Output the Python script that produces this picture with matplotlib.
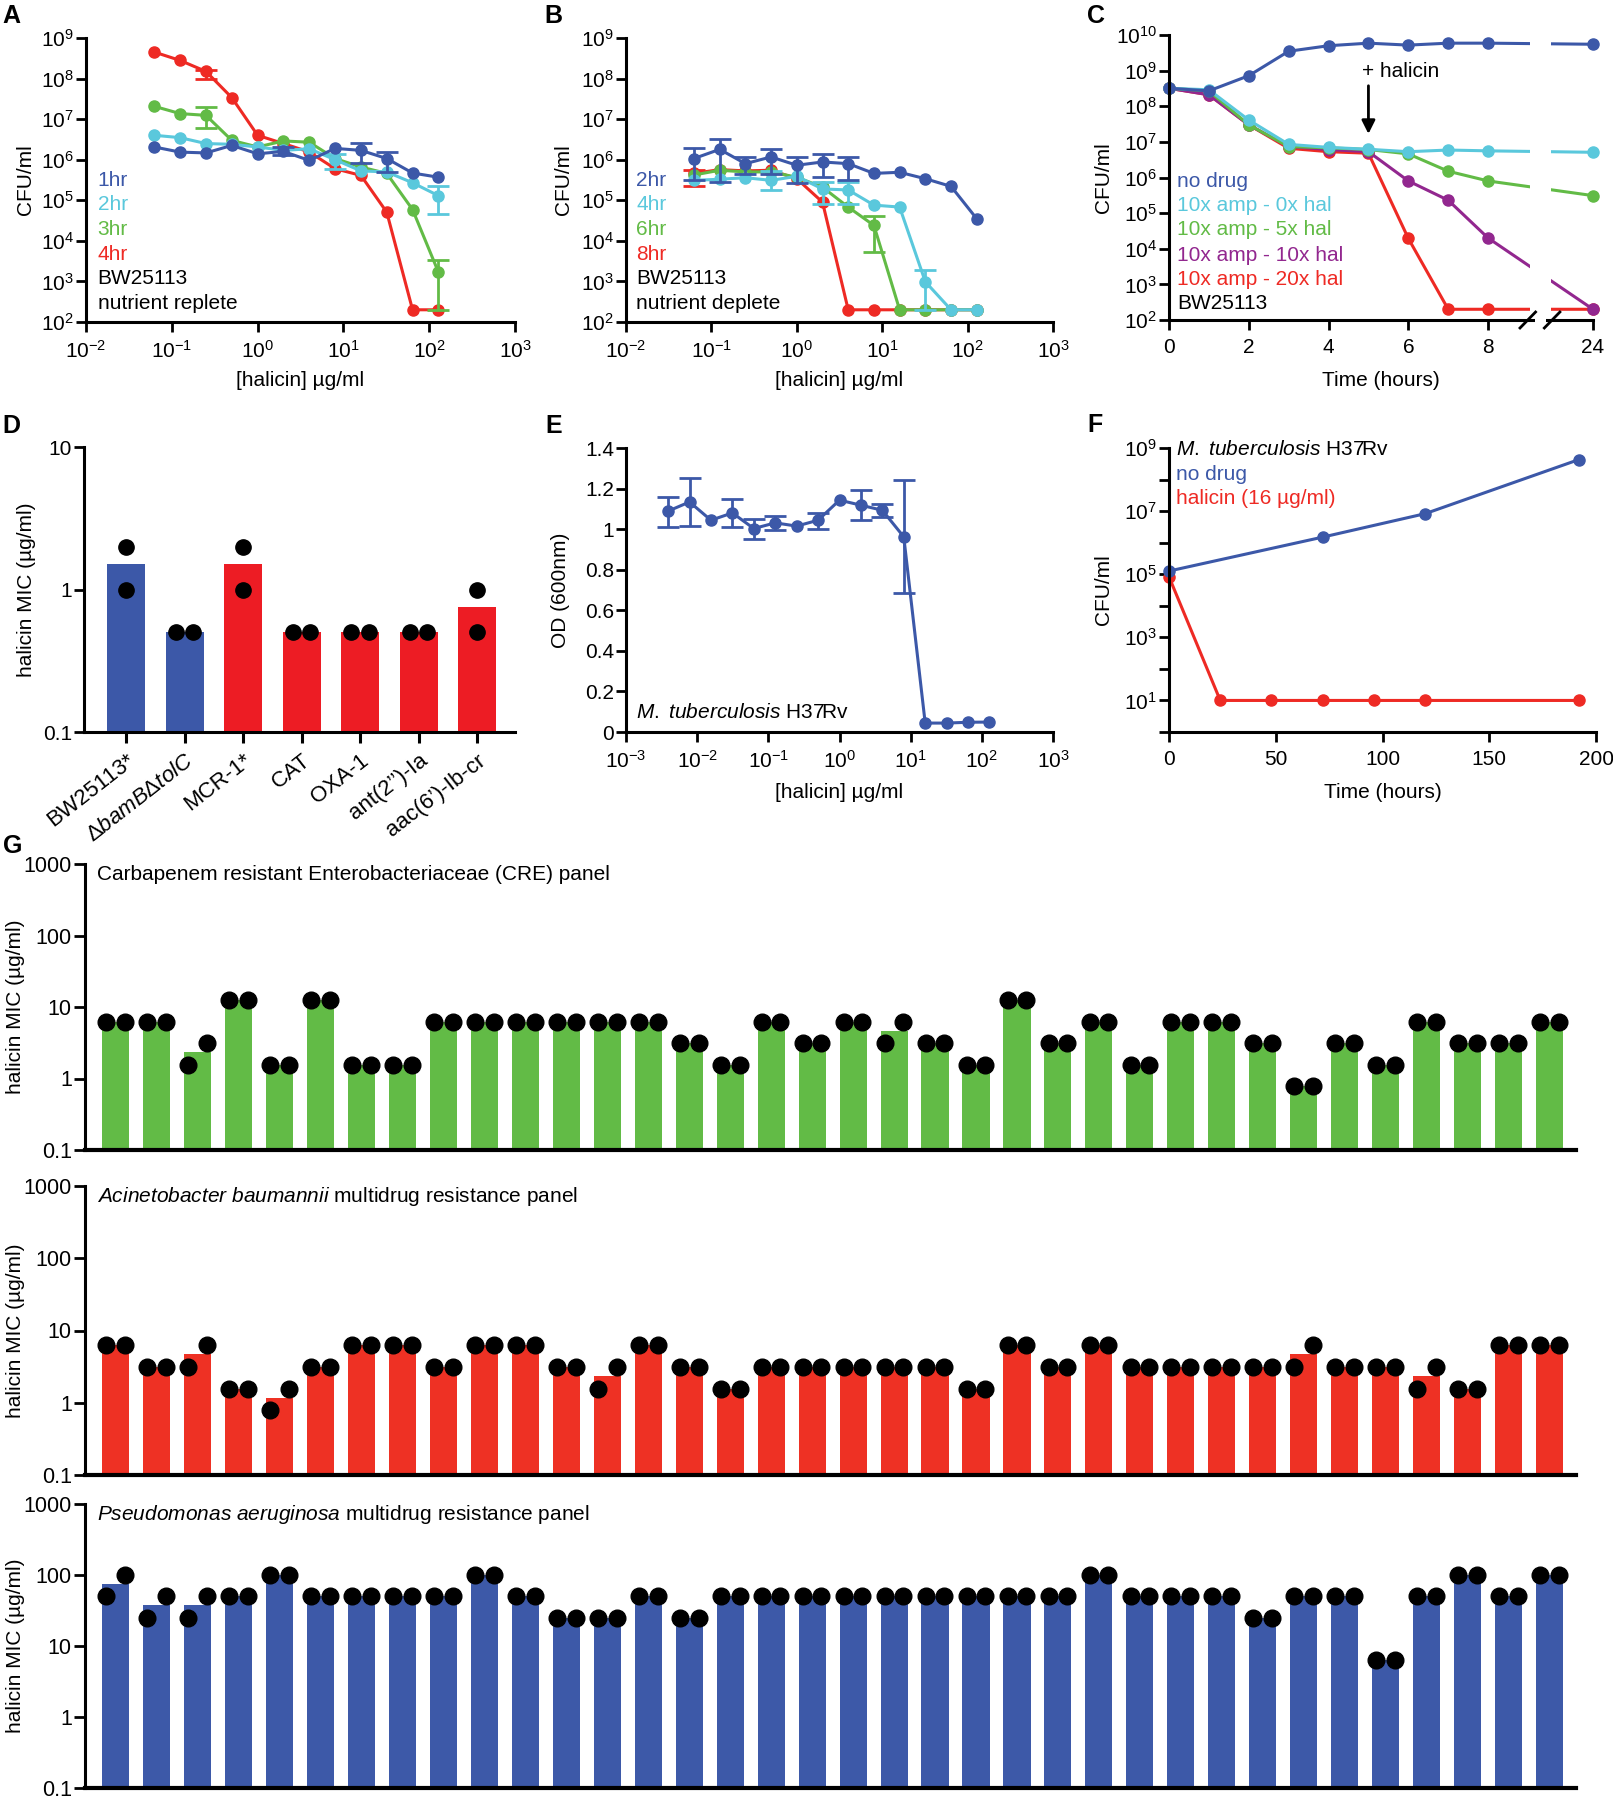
import numpy as np
import matplotlib
matplotlib.use('Agg')
import matplotlib.pyplot as plt
from matplotlib.ticker import FuncFormatter, NullLocator
from matplotlib.transforms import blended_transform_factory

plt.rcParams['font.family'] = ['Liberation Sans', 'DejaVu Sans']
plt.rcParams['mathtext.fontset'] = 'custom'
plt.rcParams['mathtext.rm'] = 'Liberation Sans'
plt.rcParams['mathtext.it'] = 'Liberation Sans:italic'
plt.rcParams['mathtext.bf'] = 'Liberation Sans:bold'

BLUE = '#3c58a8'
CYAN = '#5ac8dc'
GREEN = '#62bb46'
RED = '#ee2a24'
PURPLE = '#92278f'

# ---- A: nutrient replete kill curves ----
conc = [0.0625, 0.125, 0.25, 0.5, 1, 2, 4, 8, 16, 32, 64, 128]
a_1hr = [2.06e6, 1.54e6, 1.47e6, 2.25e6, 1.4e6, 1.6e6, 9.6e5, 1.9e6, 1.7e6, 1.07e6, 4.7e5, 3.7e5]
a_2hr = [4e6, 3.5e6, 2.5e6, 2.4e6, 2.06e6, 1.7e6, 1.86e6, 1e6, 5.3e5, 5e5, 2.7e5, 1.3e5]
a_3hr = [2.07e7, 1.37e7, 1.24e7, 3e6, 2.06e6, 2.9e6, 2.7e6, 1.07e6, 6.6e5, 4.6e5, 5.9e4, 1.7e3]
a_4hr = [4.5e8, 2.8e8, 1.5e8, 3.4e7, 4e6, 2.5e6, 1.55e6, 6e5, 4.1e5, 5.1e4, 200, 200]
# error bars as (index, lower, upper)
a_1hr_err = [(5, 1.3e6, 2.05e6), (8, 8.5e5, 2.6e6), (9, 5e5, 1.55e6)]
a_2hr_err = [(7, 6e5, 1.4e6), (11, 4.7e4, 2.3e5)]
a_3hr_err = [(2, 5.9e6, 2e7), (11, 200, 3.3e3)]
a_4hr_err = [(2, 1e8, 1.6e8)]

# ---- B: nutrient deplete kill curves ----
b_2hr = [1.07e6, 1.8e6, 8e5, 1.17e6, 7.3e5, 8.8e5, 8e5, 4.6e5, 4.9e5, 3.4e5, 2.2e5, 3.5e4]
b_4hr = [3.1e5, 3.3e5, 3.6e5, 3.1e5, 3.9e5, 1.9e5, 1.8e5, 7.6e4, 6.8e4, 980, 200, 200]
b_6hr = [4.2e5, 5.5e5, 5e5, 5e5, 3.7e5, 2.1e5, 6.8e4, 2.4e4, 200, 200, 200, 200]
b_8hr = [4.6e5, 5.7e5, 5.3e5, 5.5e5, 3.4e5, 9e4, 200, 200, 200, 200, 200, 200]
b_2hr_err = [(0, 3.1e5, 1.9e6), (1, 2.8e5, 3.3e6), (2, 4.5e5, 1.2e6), (3, 4.5e5, 1.8e6),
             (4, 2.6e5, 1.2e6), (5, 3.8e5, 1.4e6), (6, 3.1e5, 1.2e6)]
b_4hr_err = [(3, 1.8e5, 5.2e5), (5, 8e4, 2.8e5), (6, 8e4, 2.8e5), (9, 200, 1.9e3)]
b_6hr_err = [(7, 5.3e3, 4.2e4)]
b_8hr_err = [(0, 2.2e5, 5.5e5)]

# ---- C: amp + halicin time course ----
hours_c = [0, 1, 2, 3, 4, 5, 6, 7, 8, 24]
c_nodrug = [3.2e8, 2.7e8, 7.2e8, 3.5e9, 5e9, 5.9e9, 5.2e9, 5.9e9, 5.9e9, 5.5e9]
c_0x = [3.2e8, 2.9e8, 4.1e7, 8.5e6, 7e6, 6.2e6, 5.3e6, 5.9e6, 5.6e6, 5.1e6]
c_5x = [3.2e8, 2.7e8, 3e7, 7.4e6, 6.8e6, 6.1e6, 4.6e6, 1.5e6, 8e5, 3.1e5]
c_10x = [3.2e8, 2.1e8, 3e7, 7.4e6, 6.1e6, 5.3e6, 8e5, 2.3e5, 2e4, 200]
c_20x = [3.2e8, 2.1e8, 3e7, 6.6e6, 5.3e6, 4.8e6, 1.95e4, 200, 200, 200]

# ---- D: resistant E. coli strains ----
d_strains = ['BW25113*', r'$\Delta\mathit{bamB}\Delta\mathit{tolC}$', 'MCR-1*', 'CAT', 'OXA-1',
             'ant(2’’)-Ia', 'aac(6’)-Ib-cr']
d_rep1 = [1, 0.5, 1, 0.5, 0.5, 0.5, 0.5]
d_rep2 = [2, 0.5, 2, 0.5, 0.5, 0.5, 1]

# ---- E: M. tuberculosis OD ----
conc_e = [0.00390625, 0.0078125, 0.015625, 0.03125, 0.0625, 0.125, 0.25, 0.5,
          1, 2, 4, 8, 16, 32, 64, 128]
od_e = [1.089, 1.134, 1.044, 1.08, 1.003, 1.031, 1.015, 1.044,
        1.143, 1.118, 1.093, 0.962, 0.044, 0.044, 0.048, 0.049]
od_e_err = [(0, 1.01, 1.16), (1, 1.015, 1.25), (3, 1.01, 1.15), (4, 0.95, 1.052),
            (5, 0.998, 1.066), (7, 1.003, 1.08), (9, 1.044, 1.195), (10, 1.06, 1.126),
            (11, 0.687, 1.241)]

# ---- F: M. tuberculosis CFU ----
hours_f_nodrug = [0, 72, 120, 192]
cfu_f_nodrug = [1.26e5, 1.5e6, 8.3e6, 4.3e8]
hours_f_hal = [0, 24, 48, 72, 96, 120, 192]
cfu_f_hal = [8.3e4, 10, 10, 10, 10, 10, 10]

# ---- G: MIC panels (two replicates each, 36 isolates) ----
cre_rep1 = [6.25, 6.25, 1.5625, 12.5, 1.5625, 12.5, 1.5625, 1.5625, 6.25, 6.25, 6.25, 6.25,
            6.25, 6.25, 3.125, 1.5625, 6.25, 3.125, 6.25, 3.125, 3.125, 1.5625, 12.5, 3.125,
            6.25, 1.5625, 6.25, 6.25, 3.125, 0.78125, 3.125, 1.5625, 6.25, 3.125, 3.125, 6.25]
cre_rep2 = [6.25, 6.25, 3.125, 12.5, 1.5625, 12.5, 1.5625, 1.5625, 6.25, 6.25, 6.25, 6.25,
            6.25, 6.25, 3.125, 1.5625, 6.25, 3.125, 6.25, 6.25, 3.125, 1.5625, 12.5, 3.125,
            6.25, 1.5625, 6.25, 6.25, 3.125, 0.78125, 3.125, 1.5625, 6.25, 3.125, 3.125, 6.25]
aba_rep1 = [6.25, 3.125, 3.125, 1.5625, 0.78125, 3.125, 6.25, 6.25, 3.125, 6.25, 6.25, 3.125,
            1.5625, 6.25, 3.125, 1.5625, 3.125, 3.125, 3.125, 3.125, 3.125, 1.5625, 6.25, 3.125,
            6.25, 3.125, 3.125, 3.125, 3.125, 3.125, 3.125, 3.125, 1.5625, 1.5625, 6.25, 6.25]
aba_rep2 = [6.25, 3.125, 6.25, 1.5625, 1.5625, 3.125, 6.25, 6.25, 3.125, 6.25, 6.25, 3.125,
            3.125, 6.25, 3.125, 1.5625, 3.125, 3.125, 3.125, 3.125, 3.125, 1.5625, 6.25, 3.125,
            6.25, 3.125, 3.125, 3.125, 3.125, 6.25, 3.125, 3.125, 3.125, 1.5625, 6.25, 6.25]
pae_rep1 = [50, 25, 25, 50, 100, 50, 50, 50, 50, 100, 50, 25, 25, 50, 25, 50, 50, 50,
            50, 50, 50, 50, 50, 50, 100, 50, 50, 50, 25, 50, 50, 6.25, 50, 100, 50, 100]
pae_rep2 = [100, 50, 50, 50, 100, 50, 50, 50, 50, 100, 50, 25, 25, 50, 25, 50, 50, 50,
            50, 50, 50, 50, 50, 50, 100, 50, 50, 50, 25, 50, 50, 6.25, 50, 100, 50, 100]

W, H = 1613, 1800
fig = plt.figure(figsize=(W / 100, H / 100), dpi=100)
FS = 15


def box(l, t, r, b):
    return [l / W, 1 - b / H, (r - l) / W, (b - t) / H]


def style(ax):
    for s in ['top', 'right']:
        ax.spines[s].set_visible(False)
    for s in ['left', 'bottom']:
        ax.spines[s].set_linewidth(2.2)
    ax.tick_params(width=2, length=7, labelsize=FS)
    ax.tick_params(axis='x', pad=6)
    ax.tick_params(axis='y', pad=1.5)


def labels(ax, xlabel=None, xl_dy=60, ylabel=None, yl_dx=62):
    # place axis labels at a given pixel distance from the spines
    pos = ax.get_position()
    if xlabel:
        ax.set_xlabel(xlabel, fontsize=FS, va='center')
        ax.xaxis.set_label_coords(0.5, -xl_dy / (pos.height * H))
    if ylabel:
        ax.set_ylabel(ylabel, fontsize=FS, va='center')
        ax.yaxis.set_label_coords(-yl_dx / (pos.width * W), 0.5)


pow10 = FuncFormatter(lambda v, p: '$10^{%d}$' % int(round(np.log10(v))))
plain = FuncFormatter(lambda v, p: '%g' % v)


def log_axes(ax, xdec=None, ydec=None):
    if xdec is not None:
        ax.set_xscale('log')
        ax.set_xlim(10.0 ** xdec[0], 10.0 ** xdec[1])
        ax.set_xticks(10.0 ** np.arange(xdec[0], xdec[1] + 1))
        ax.xaxis.set_major_formatter(pow10)
        ax.xaxis.set_minor_locator(NullLocator())
    if ydec is not None:
        ax.set_yscale('log')
        ax.set_ylim(10.0 ** ydec[0], 10.0 ** ydec[1])
        ax.set_yticks(10.0 ** np.arange(ydec[0], ydec[1] + 1))
        ax.yaxis.set_major_formatter(pow10)
        ax.yaxis.set_minor_locator(NullLocator())


def curve(ax, x, y, color, errs=()):
    ax.plot(x, y, '-o', color=color, lw=2.2, ms=8, clip_on=False)
    for i, lo, hi in errs:
        ax.errorbar(x[i], y[i], yerr=[[y[i] - lo], [hi - y[i]]], color=color,
                    capsize=8, capthick=2, elinewidth=2, clip_on=False)


def legend_text(ax, x0, ys, texts, colors):
    for yf, txt, col in zip(ys, texts, colors):
        ax.text(x0, yf, txt, color=col, fontsize=FS, va='center', ha='left',
                transform=ax.transAxes)


def letter(x, y, s):
    fig.text(x / W, 1 - y / H, s, fontsize=18, fontweight='bold', va='top', ha='left')


leg_y = [0.499, 0.414, 0.326, 0.238, 0.152, 0.066]

# Panel A
axA = fig.add_axes(box(86, 38, 515, 322))
style(axA)
log_axes(axA, (-2, 3), (2, 9))
curve(axA, conc, a_4hr, RED, a_4hr_err)
curve(axA, conc, a_3hr, GREEN, a_3hr_err)
curve(axA, conc, a_2hr, CYAN, a_2hr_err)
curve(axA, conc, a_1hr, BLUE, a_1hr_err)
labels(axA, '[halicin] µg/ml', 58, 'CFU/ml', 60)
legend_text(axA, 0.027, leg_y, ['1hr', '2hr', '3hr', '4hr', 'BW25113', 'nutrient replete'],
            [BLUE, CYAN, GREEN, RED, 'black', 'black'])
letter(2, 4, 'A')

# Panel B
axB = fig.add_axes(box(626, 38, 1053, 322))
style(axB)
log_axes(axB, (-2, 3), (2, 9))
curve(axB, conc, b_8hr, RED, b_8hr_err)
curve(axB, conc, b_6hr, GREEN, b_6hr_err)
curve(axB, conc, b_4hr, CYAN, b_4hr_err)
curve(axB, conc, b_2hr, BLUE, b_2hr_err)
labels(axB, '[halicin] µg/ml', 58, 'CFU/ml', 62)
legend_text(axB, 0.024, leg_y, ['2hr', '4hr', '6hr', '8hr', 'BW25113', 'nutrient deplete'],
            [BLUE, CYAN, GREEN, RED, 'black', 'black'])
letter(544, 4, 'B')

# Panel C (broken time axis: 8-24 h squeezed)
k_c = 1.63 / 15


def fwd(x):
    x = np.asarray(x, float)
    return np.where(x <= 9, x, 9 + (x - 9) * k_c)


def inv(t):
    t = np.asarray(t, float)
    return np.where(t <= 9, t, 9 + (t - 9) / k_c)


axC = fig.add_axes(box(1169, 35, 1593, 320))
style(axC)
axC.set_xscale('function', functions=(fwd, inv))
axC.set_xlim(0, 24)
axC.set_xticks([0, 2, 4, 6, 8, 24])
axC.xaxis.set_minor_locator(NullLocator())
log_axes(axC, None, (2, 10))
curve(axC, hours_c, c_20x, RED)
curve(axC, hours_c, c_10x, PURPLE)
curve(axC, hours_c, c_5x, GREEN)
curve(axC, hours_c, c_0x, CYAN)
curve(axC, hours_c, c_nodrug, BLUE)
axC.axvspan(float(inv(9.05)), float(inv(9.57)), ymin=0.012, ymax=1.0,
            color='white', zorder=3, lw=0)
sgap = axC.axvspan(float(inv(9.18)), float(inv(9.44)), ymin=-0.03, ymax=0.03,
                   color='white', zorder=4, lw=0)
sgap.set_clip_on(False)
tr = blended_transform_factory(axC.transData, axC.transAxes)
for a, b in [(8.80, 9.19), (9.41, 9.80)]:
    axC.plot([float(inv(a)), float(inv(b))], [-0.028, 0.028], color='black', lw=2,
             transform=tr, clip_on=False, zorder=5)
axC.annotate('', xy=(5, 1.4e7), xytext=(5, 4.5e8),
             arrowprops=dict(arrowstyle='-|>', color='black', lw=2, mutation_scale=20))
axC.text(5.8, 9.3e8, '+ halicin', fontsize=FS, ha='center', va='center')
labels(axC, 'Time (hours)', 60, 'CFU/ml', 66)
legend_text(axC, 0.019, [0.485, 0.401, 0.316, 0.228, 0.143, 0.058],
            ['no drug', '10x amp - 0x hal', '10x amp - 5x hal', '10x amp - 10x hal',
             '10x amp - 20x hal', 'BW25113'],
            [BLUE, CYAN, GREEN, PURPLE, RED, 'black'])
letter(1087, 4, 'C')

# Panel D
axD = fig.add_axes(box(84, 447, 515, 732))
style(axD)
xd = np.arange(len(d_strains))
d1, d2 = np.array(d_rep1), np.array(d_rep2)
axD.set_yscale('log')
axD.bar(xd, (d1 + d2) / 2, width=0.65, color=[BLUE] * 2 + ['#ed1c24'] * 5)
off = np.where(d1 == d2, 0.147, 0.0)
axD.plot(xd - off, d1, 'o', color='black', ms=11, zorder=4)
axD.plot(xd + off, d2, 'o', color='black', ms=11, zorder=4)
axD.set_xlim(-0.72, 6.65)
axD.set_ylim(0.1, 10)
axD.set_yticks([0.1, 1, 10])
axD.yaxis.set_major_formatter(plain)
axD.yaxis.set_minor_locator(NullLocator())
axD.set_xticks(xd)
axD.set_xticklabels(d_strains, rotation=38, ha='right', rotation_mode='anchor', fontsize=16)
axD.tick_params(axis='x', length=8, width=2.2, pad=5)
labels(axD, ylabel='halicin MIC (µg/ml)', yl_dx=57)
letter(2, 414, 'D')

# Panel E
axE = fig.add_axes(box(626, 448, 1053, 732))
style(axE)
log_axes(axE, (-3, 3), None)
axE.set_ylim(0, 1.4)
axE.set_yticks(np.arange(0, 1.41, 0.2))
axE.yaxis.set_major_formatter(plain)
curve(axE, conc_e, od_e, BLUE, od_e_err)
axE.text(0.023, 0.067, r'$\mathit{M.\ tuberculosis}$ H37Rv', fontsize=FS,
         transform=axE.transAxes, va='center')
labels(axE, '[halicin] µg/ml', 60, 'OD (600nm)', 65)
letter(545, 414, 'E')

# Panel F
axF = fig.add_axes(box(1169, 448, 1596, 732))
style(axF)
axF.set_yscale('log')
axF.set_ylim(1, 1e9)
axF.set_yticks(10.0 ** np.arange(0, 10))
axF.yaxis.set_minor_locator(NullLocator())
axF.yaxis.set_major_formatter(FuncFormatter(
    lambda v, p: ('$10^{%d}$' % int(round(np.log10(v)))) if int(round(np.log10(v))) % 2 else ''))
axF.set_xlim(0, 200)
axF.set_xticks([0, 50, 100, 150, 200])
curve(axF, hours_f_hal, cfu_f_hal, RED)
curve(axF, hours_f_nodrug, cfu_f_nodrug, BLUE)
legend_text(axF, 0.017, [0.994, 0.907, 0.821],
            [r'$\mathit{M.\ tuberculosis}$ H37Rv', 'no drug', 'halicin (16 µg/ml)'],
            ['black', BLUE, RED])
labels(axF, 'Time (hours)', 60, 'CFU/ml', 66)
letter(1087, 413, 'F')

# Panel G
g_panels = [
    (cre_rep1, cre_rep2, '#62bb46', 'Carbapenem resistant Enterobacteriaceae (CRE) panel', (864, 1150)),
    (aba_rep1, aba_rep2, '#ee3124',
     r'$\mathit{Acinetobacter\ baumannii}$ multidrug resistance panel', (1186, 1475)),
    (pae_rep1, pae_rep2, '#3d59a8',
     r'$\mathit{Pseudomonas\ aeruginosa}$ multidrug resistance panel', (1504, 1788)),
]
for r1, r2, col, title, (top, bot) in g_panels:
    ax = fig.add_axes(box(85, top, 1576, bot))
    style(ax)
    r1, r2 = np.array(r1), np.array(r2)
    xg = np.arange(len(r1))
    ax.set_yscale('log')
    ax.bar(xg, (r1 + r2) / 2, width=0.66, color=col)
    ax.plot(xg - 0.23, r1, 'o', color='black', ms=12, zorder=4, clip_on=False)
    ax.plot(xg + 0.23, r2, 'o', color='black', ms=12, zorder=4, clip_on=False)
    ax.set_xlim(-0.74, 35.64)
    ax.set_ylim(0.1, 1000)
    ax.set_yticks([0.1, 1, 10, 100, 1000])
    ax.yaxis.set_major_formatter(plain)
    ax.yaxis.set_minor_locator(NullLocator())
    ax.tick_params(axis='y', labelsize=15.5, length=8)
    ax.set_xticks([])
    ax.spines['bottom'].set_linewidth(3)
    labels(ax, ylabel='halicin MIC (µg/ml)', yl_dx=69)
    ax.text(0.008, 0.962, title, fontsize=FS, transform=ax.transAxes, va='center')
letter(3, 834, 'G')

fig.savefig('out.png', dpi=100)
